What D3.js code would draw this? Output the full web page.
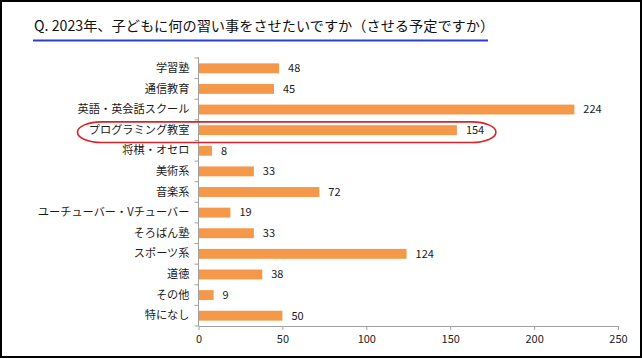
<!DOCTYPE html>
<html><head><meta charset="utf-8">
<script src="https://cdn.jsdelivr.net/npm/d3@7"></script>
<style>
html,body{margin:0;padding:0;background:#fff;}
svg{display:block;}
text{font-family:"Noto Sans CJK JP","Noto Sans",sans-serif;}
</style></head>
<body>
<svg id="chart" width="642" height="359"></svg>
<script>
const title = "Q. 2023年、子どもに何の習い事をさせたいですか（させる予定ですか）";
const categories = ["学習塾","通信教育","英語・英会話スクール","プログラミング教室","将棋・オセロ","美術系","音楽系","ユーチューバー・Vチューバー","そろばん塾","スポーツ系","道徳","その他","特になし"];
const values = [48,45,224,154,8,33,72,19,33,124,38,9,50];
const xTicks = [0,50,100,150,200,250];
const highlight = "プログラミング教室";

const svg = d3.select("#chart");
// frame
svg.append("rect").attr("x",1).attr("y",1).attr("width",640).attr("height",356)
  .attr("fill","#fff").attr("stroke","#000").attr("stroke-width",2);

// title
svg.append("text").attr("x",34).attr("y",31).attr("font-size",14.2).attr("fill","#111")
  .text(title);
svg.append("line").attr("x1",33).attr("x2",488).attr("y1",40.5).attr("y2",40.5)
  .attr("stroke","#2b3fd6").attr("stroke-width",2);

const x = d3.scaleLinear().domain([0,250]).range([198.5,618]);
const y = d3.scaleBand().domain(categories).range([58,326]).paddingInner(0.52).paddingOuter(0.26);

const g = svg.append("g");
// x axis
const xa = g.append("g").attr("transform","translate(0,326)")
  .call(d3.axisBottom(x).tickValues(xTicks).tickSize(4).tickPadding(5).tickSizeOuter(0));
xa.select(".domain").attr("stroke","#a0a0a0");
xa.selectAll(".tick line").attr("stroke","#a0a0a0");
xa.selectAll(".tick text").attr("font-size",11).attr("fill","#222").attr("font-family","Arial, 'Liberation Sans', sans-serif");

// y axis
const ya = g.append("g").attr("transform","translate(198.5,0)")
  .call(d3.axisLeft(y).tickSize(0).tickPadding(9).tickSizeOuter(0));
ya.select(".domain").attr("stroke","#a0a0a0").attr("d","M0,57V326");
ya.selectAll(".tick text").attr("font-size",11.2).attr("fill","#1a1a1a");
// band boundary ticks
const bounds = categories.map(c => y(c) - y.step()*y.paddingInner()/2).concat([326]);
ya.selectAll(".btick").data(bounds).join("line").attr("class","btick")
  .attr("x1",-4).attr("x2",0).attr("y1",d=>d).attr("y2",d=>d).attr("stroke","#a0a0a0");

// bars
g.selectAll(".bar").data(categories).join("rect").attr("class","bar")
  .attr("x",x(0)+0.5).attr("y",d=>y(d)).attr("height",y.bandwidth())
  .attr("width",(d,i)=>x(values[i])-x(0)-0.5).attr("fill","#f5984a");

// value labels
g.selectAll(".val").data(categories).join("text").attr("class","val")
  .attr("x",(d,i)=>x(values[i])+9).attr("y",d=>y(d)+y.bandwidth()/2)
  .attr("dy","0.35em").attr("font-size",11).attr("fill","#1a1a1a")
  .attr("font-family","Arial, 'Liberation Sans', sans-serif")
  .text((d,i)=>values[i]);

// highlight ring (rounded capsule)
const hi = categories.indexOf(highlight);
const cy = y(highlight)+y.bandwidth()/2 + 2;
const left = 77.5, right = x(values[hi]) + 39;
svg.append("rect").attr("x",left).attr("y",cy-10.3)
  .attr("width",right-left).attr("height",20.6)
  .attr("rx",24).attr("ry",10.3)
  .attr("fill","none").attr("stroke","#d9232a").attr("stroke-width",1.6);
</script>
</body></html>
